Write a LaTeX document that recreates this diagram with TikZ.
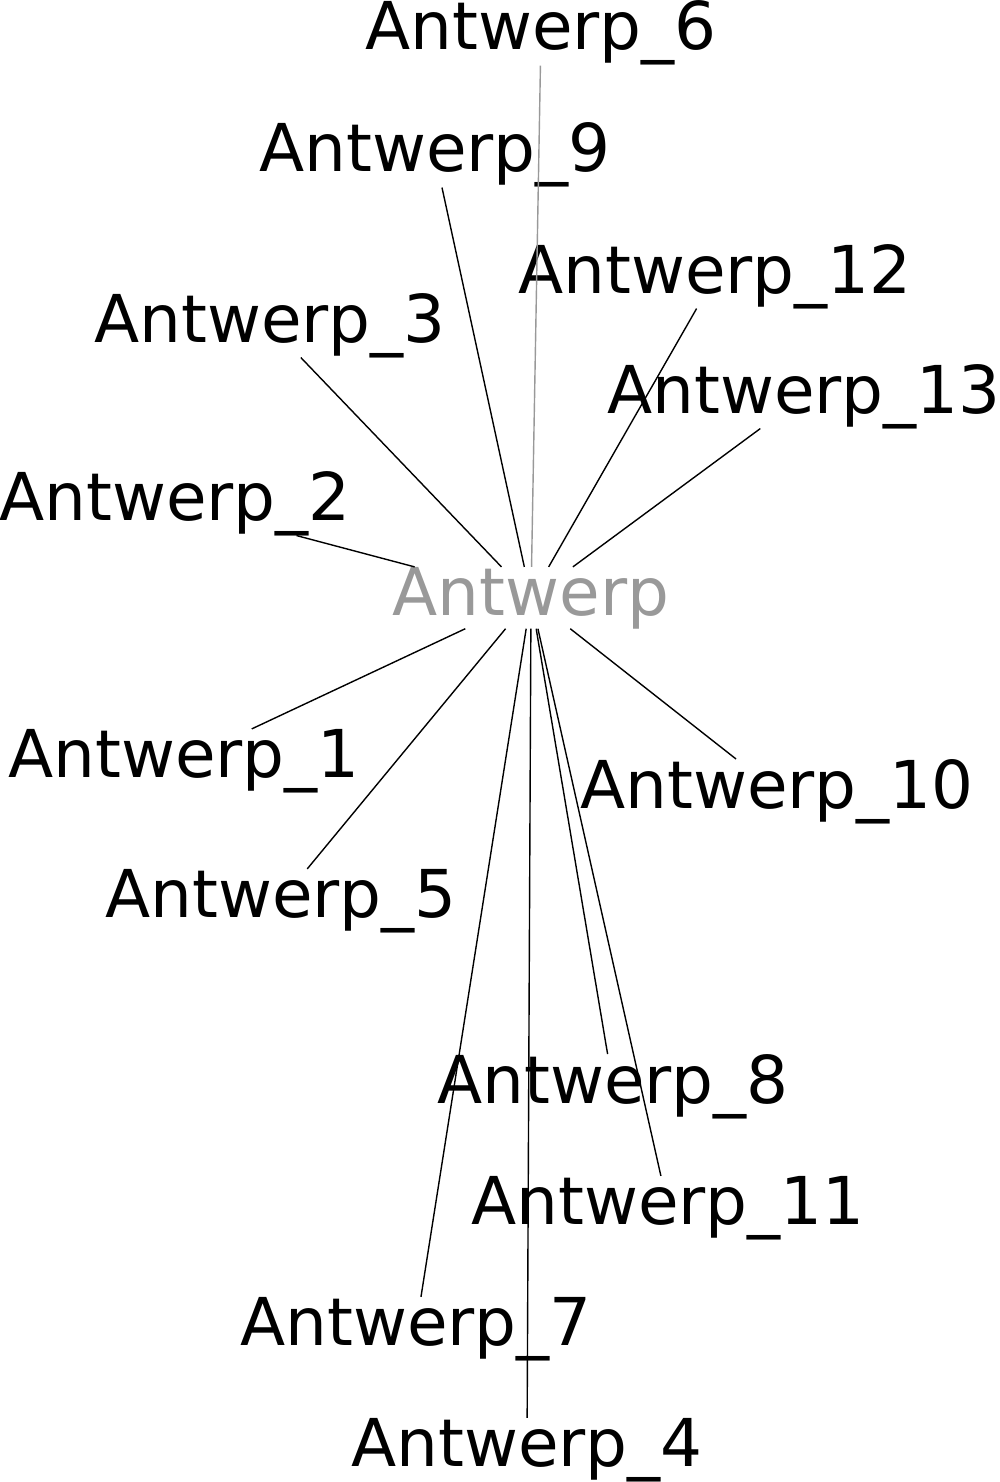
\documentclass[tikz,border=0pt]{standalone}
\usepackage{fontspec}
\setmainfont{DejaVu Sans}
\usetikzlibrary{positioning}
\colorlet{mygrey}{black!40}
\tikzstyle{myplace}=[inner sep=0pt,outer sep=0pt,anchor=base,font=\fontsize{66}{80}\selectfont]
\tikzstyle{myhub}=[myplace,text=mygrey]
\tikzstyle{myline}=[black,line width=1.4]

\begin{document}
\begin{tikzpicture}[x=1pt,y=-1pt]
  \useasboundingbox (0,0) rectangle (1000,1482);

  % hub
  \node[myhub] (A) at (531,615) {Antwerp};

  % top half
  \node[myplace] (A6) at (541,50) {Antwerp\_6};
  \node[myplace] (A9) at (435,172) {Antwerp\_9};
  \node[myplace] (A12) at (715,293) {Antwerp\_12};
  \node[myplace] (A3) at (270,342) {Antwerp\_3};
  \node[myplace] (A13) at (804,413) {Antwerp\_13};
  \node[myplace] (A2) at (175,520) {Antwerp\_2};

  % bottom half
  \node[myplace] (A1) at (184,777) {Antwerp\_1};
  \node[myplace] (A10) at (777,808) {Antwerp\_10};
  \node[myplace] (A5) at (281,917) {Antwerp\_5};
  \node[myplace] (A8) at (613,1103) {Antwerp\_8};
  \node[myplace] (A11) at (668,1224) {Antwerp\_11};
  \node[myplace] (A7) at (416,1345) {Antwerp\_7};
  \node[myplace] (A4) at (527,1466) {Antwerp\_4};

  % EDGES
  \draw[myline,mygrey] (A) -- (A6);
  \draw[myline] (A) -- (A9);
  \draw[myline] (A) -- (A12);
  \draw[myline] (A) -- (A3);
  \draw[myline] (A) -- (A13);
  \draw[myline] (A) -- (A2);
  \draw[myline] (A) -- (A1);
  \draw[myline] (A) -- (A10);
  \draw[myline] (A) -- (A5);
  \draw[myline] (A) -- (A8);
  \draw[myline] (A) -- (A11);
  \draw[myline] (A) -- (A7);
  \draw[myline] (A) -- (A4);

\end{tikzpicture}
\end{document}
